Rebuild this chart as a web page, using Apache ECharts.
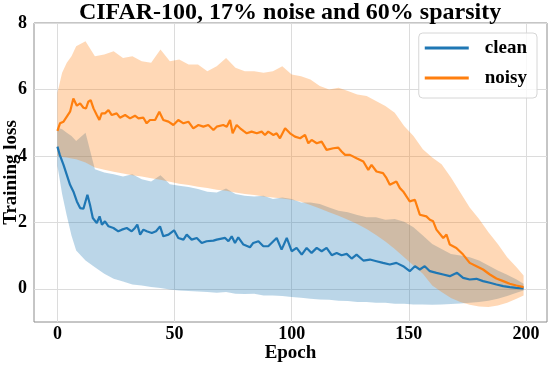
<!DOCTYPE html>
<html><head><meta charset="utf-8">
<script src="https://cdn.jsdelivr.net/npm/echarts@6/dist/echarts.min.js"></script>
<style>html,body{margin:0;padding:0;background:#fff}#c{width:548px;height:366px}</style>
</head><body><div id="c"></div>
<script>
const titleText = 'CIFAR-100, 17% noise and 60% sparsity';
const seriesNames = ['clean', 'noisy'];
const xTicks = [0, 50, 100, 150, 200];
const yTicks = [0, 2, 4, 6, 8];

const cleanMean = [[0,4.28],[1,4.03],[2.6,3.73],[4,3.43],[5.4,3.13],[6.8,2.93],[8.3,2.63],[9.7,2.43],[11.1,2.41],[12.8,2.83],[13.9,2.53],[15.1,2.13],[16.8,1.98],[18,2.18],[19,1.93],[20.3,2.03],[21.8,1.88],[23.9,1.83],[26,1.73],[27.5,1.78],[29.6,1.83],[31.7,1.73],[33.1,1.83],[34.1,1.93],[35.3,1.63],[36.7,1.78],[38.1,1.73],[40.3,1.68],[42.1,1.73],[43.8,1.88],[45.2,1.58],[47.4,1.63],[49.8,1.76],[51.6,1.53],[53.8,1.48],[55.2,1.63],[57.3,1.48],[59.5,1.53],[61.6,1.38],[63.7,1.43],[66.6,1.45],[68,1.48],[71.6,1.53],[73,1.43],[74.4,1.58],[75.8,1.38],[77.2,1.55],[79.4,1.33],[82.2,1.25],[83.6,1.38],[85.8,1.43],[87.9,1.28],[90,1.28],[93.6,1.53],[95.7,1.18],[97.9,1.53],[100,1.13],[102.1,1.23],[104.3,1.03],[106.4,1.23],[108.5,1.08],[110.7,1.23],[112.8,1.13],[114.9,1.23],[117.1,1.01],[119.2,1.08],[121.3,1.01],[123.5,1.05],[125.6,0.91],[127.7,1.03],[130.6,0.85],[133.4,0.88],[136.2,0.83],[139,0.78],[141.9,0.73],[144.7,0.78],[147.6,0.68],[150.4,0.53],[152.6,0.68],[154.7,0.58],[156.8,0.68],[159,0.53],[161.8,0.48],[164.7,0.43],[167.5,0.38],[170.6,0.48],[173.2,0.33],[176,0.28],[178.9,0.30],[181.7,0.23],[184.6,0.18],[187.4,0.13],[190.3,0.08],[193.1,0.05],[195.9,0.03],[199,0.01]];

const noisyMean = [[0,4.75],[1.1,4.98],[2.6,5.03],[4,5.18],[5.4,5.33],[6.8,5.73],[8.3,5.51],[9.7,5.58],[11.1,5.45],[12.2,5.43],[13.2,5.63],[14.2,5.68],[15.4,5.43],[16.8,5.23],[17.9,5.08],[18.9,5.28],[20.3,5.28],[21.8,5.38],[23.2,5.23],[25.3,5.28],[26.7,5.15],[28.9,5.23],[31,5.13],[33.1,5.21],[34.6,5.13],[36.7,5.15],[38.1,4.98],[39.5,5.08],[41.7,5.08],[43.5,5.33],[45.2,5.08],[47.4,5.03],[49.5,4.93],[51.6,5.08],[53.8,4.98],[55.9,5.03],[58,4.83],[60.2,4.93],[62.3,4.88],[64.4,4.93],[66.6,4.78],[68,4.88],[70.8,4.93],[72.3,4.88],[73.7,5.08],[74.8,4.68],[76.5,4.93],[78,4.83],[79.4,4.75],[80.8,4.68],[82.9,4.73],[85.1,4.68],[87.2,4.73],[88.6,4.63],[90,4.73],[92.2,4.63],[93.6,4.68],[95,4.53],[97.2,4.83],[99.3,4.68],[101.4,4.58],[103.6,4.53],[105.7,4.63],[107.1,4.38],[108.5,4.48],[110.7,4.38],[112.8,4.43],[114.9,4.18],[117.8,4.23],[119.9,4.25],[121.3,4.13],[122.8,4.03],[124.9,4.03],[127.7,3.93],[130.6,3.83],[132.7,3.58],[134.1,3.73],[136.2,3.53],[139,3.48],[140.5,3.33],[141.9,3.13],[144.7,3.23],[146.2,3.03],[147.6,2.93],[150.4,2.63],[152.6,2.68],[154.7,2.23],[157.5,2.18],[159,2.08],[160.4,2.03],[161.8,1.78],[164.7,1.53],[166.1,1.63],[167.5,1.33],[170.3,1.23],[173.2,1.03],[176,0.78],[178.9,0.68],[181.7,0.58],[184.6,0.43],[187.4,0.31],[190.3,0.23],[193.1,0.15],[195.9,0.10],[199,0.05]];

const bandEpochs = [0,2,4,6,8,12,16,20,24,28,32,36,40,44,48,52,56,60,64,68,72,76,80,84,88,92,96,100,104,108,112,116,120,124,128,132,136,140,144,148,152,156,160,164,168,172,176,180,184,188,192,196,199];
const cleanUpper = [4.85,4.8,4.7,4.6,4.45,4.7,3.6,3.5,3.45,3.38,3.45,3.3,3.23,3.42,3.15,3.1,3.06,3.0,2.92,2.9,3.02,2.85,2.8,2.78,2.8,2.7,2.75,2.7,2.6,2.6,2.55,2.45,2.35,2.3,2.22,2.15,2.15,2.08,2.1,2.02,1.85,1.6,1.35,1.2,1.05,1.0,0.95,0.85,0.7,0.55,0.42,0.28,0.15];
const cleanLower = [3.7,2.85,2.2,1.6,1.15,0.85,0.65,0.45,0.3,0.22,0.13,0.1,0.05,0.02,-0.02,-0.05,-0.07,-0.08,-0.1,-0.12,-0.1,-0.15,-0.16,-0.15,-0.2,-0.2,-0.22,-0.25,-0.27,-0.3,-0.32,-0.33,-0.36,-0.37,-0.4,-0.4,-0.42,-0.42,-0.45,-0.45,-0.47,-0.47,-0.48,-0.47,-0.46,-0.44,-0.42,-0.4,-0.36,-0.3,-0.22,-0.12,-0.05];
const noisyUpper = [5.9,6.5,6.8,7.0,7.3,7.45,7.0,7.05,7.15,6.95,7.0,6.85,6.8,7.2,6.85,6.9,6.75,6.75,6.55,6.7,6.95,6.65,6.55,6.55,6.5,6.55,6.7,6.45,6.4,6.3,6.1,6.0,6.05,5.95,5.85,5.8,5.65,5.5,5.3,4.9,4.6,4.2,3.95,3.75,3.35,2.9,2.45,2.1,1.7,1.35,0.95,0.65,0.4];
const noisyLower = [4.0,3.97,3.95,3.92,3.9,3.8,3.65,3.58,3.52,3.47,3.42,3.38,3.33,3.28,3.22,3.16,3.12,3.07,3.03,2.98,2.95,2.9,2.85,2.82,2.78,2.75,2.72,2.68,2.62,2.52,2.42,2.3,2.2,2.08,1.95,1.8,1.62,1.42,1.2,0.95,0.7,0.45,0.1,-0.1,-0.28,-0.4,-0.48,-0.53,-0.55,-0.5,-0.42,-0.3,-0.2];

const BLUE = '#1f77b4', ORANGE = '#ff7f0e';
const FONT = 'Liberation Serif';

function bandSeries(name, up, lo, color) {
  const data = bandEpochs.map((e, i) => [e, lo[i], up[i]]);
  return {
    name: name + '_band', type: 'custom', silent: true, z: 1,
    data: data,
    encode: { x: 0, y: [1, 2] },
    renderItem: function (params, api) {
      if (params.dataIndex !== 0) return null;
      const upperPts = data.map(d => api.coord([d[0], d[2]]));
      const lowerPts = data.map(d => api.coord([d[0], d[1]])).reverse();
      return {
        type: 'polygon',
        shape: { points: upperPts.concat(lowerPts) },
        style: { fill: color, opacity: 0.3 }
      };
    }
  };
}

const chart = echarts.init(document.getElementById('c'), null, { renderer: 'canvas' });
chart.setOption({
  animation: false,
  backgroundColor: '#fff',
  title: {
    text: titleText, left: 290, top: 1, padding: 0, textAlign: 'center',
    textStyle: { fontFamily: FONT, fontWeight: 'bold', fontSize: 24, color: '#000' }
  },
  grid: { left: 34, right: 1, top: 23, bottom: 44, outerBoundsMode: 'none', containLabel: false,
          show: true, borderColor: '#8c8c8c', borderWidth: 1, backgroundColor: 'transparent' },
  legend: {
    orient: 'vertical', right: 11, top: 33, itemGap: 10,
    itemWidth: 44, itemHeight: 3,
    padding: [5, 10, 10, 6],
    borderColor: '#d6d6d6', borderWidth: 1, borderRadius: 4,
    backgroundColor: 'rgba(255,255,255,0.8)',
    data: seriesNames.map(n => ({ name: n, icon: 'rect' })),
    textStyle: { fontFamily: FONT, fontWeight: 'bold', fontSize: 19, color: '#000', lineHeight: 20, padding: [0, 0, 0, 11] }
  },
  xAxis: {
    type: 'value', min: -10, max: 209, interval: 10,
    name: 'Epoch', nameLocation: 'middle', nameGap: 22, nameMoveOverlap: false,
    nameTextStyle: { fontFamily: FONT, fontWeight: 'bold', fontSize: 19, color: '#000' },
    axisLine: { show: false }, axisTick: { show: false },
    axisLabel: { margin: 3, fontFamily: FONT, fontWeight: 'bold', fontSize: 18, color: '#000',
      formatter: v => xTicks.includes(v) ? String(v) : '' },
    splitLine: { show: true, lineStyle: { color: ['rgba(0,0,0,0)', '#dcdcdc', 'rgba(0,0,0,0)', 'rgba(0,0,0,0)', 'rgba(0,0,0,0)'], width: 1 } }
  },
  yAxis: {
    type: 'value', min: -1, max: 8, interval: 1,
    name: 'Training loss', nameLocation: 'middle', nameGap: 13, nameMoveOverlap: false,
    nameTextStyle: { fontFamily: FONT, fontWeight: 'bold', fontSize: 19, color: '#000' },
    axisLine: { show: false }, axisTick: { show: false },
    axisLabel: { margin: 7, fontFamily: FONT, fontWeight: 'bold', fontSize: 18, color: '#000',
      formatter: v => yTicks.includes(v) ? String(v) : '' },
    splitLine: { show: true, lineStyle: { color: ['rgba(0,0,0,0)', '#dcdcdc'], width: 1 } }
  },
  series: [
    bandSeries('clean', cleanUpper, cleanLower, BLUE),
    bandSeries('noisy', noisyUpper, noisyLower, ORANGE),
    { name: 'clean', type: 'line', data: cleanMean, showSymbol: false, symbol: 'none',
      itemStyle: { color: BLUE }, lineStyle: { color: BLUE, width: 2.2 }, z: 3 },
    { name: 'noisy', type: 'line', data: noisyMean, showSymbol: false, symbol: 'none',
      itemStyle: { color: ORANGE }, lineStyle: { color: ORANGE, width: 2.2 }, z: 3 }
  ]
});
</script></body></html>
